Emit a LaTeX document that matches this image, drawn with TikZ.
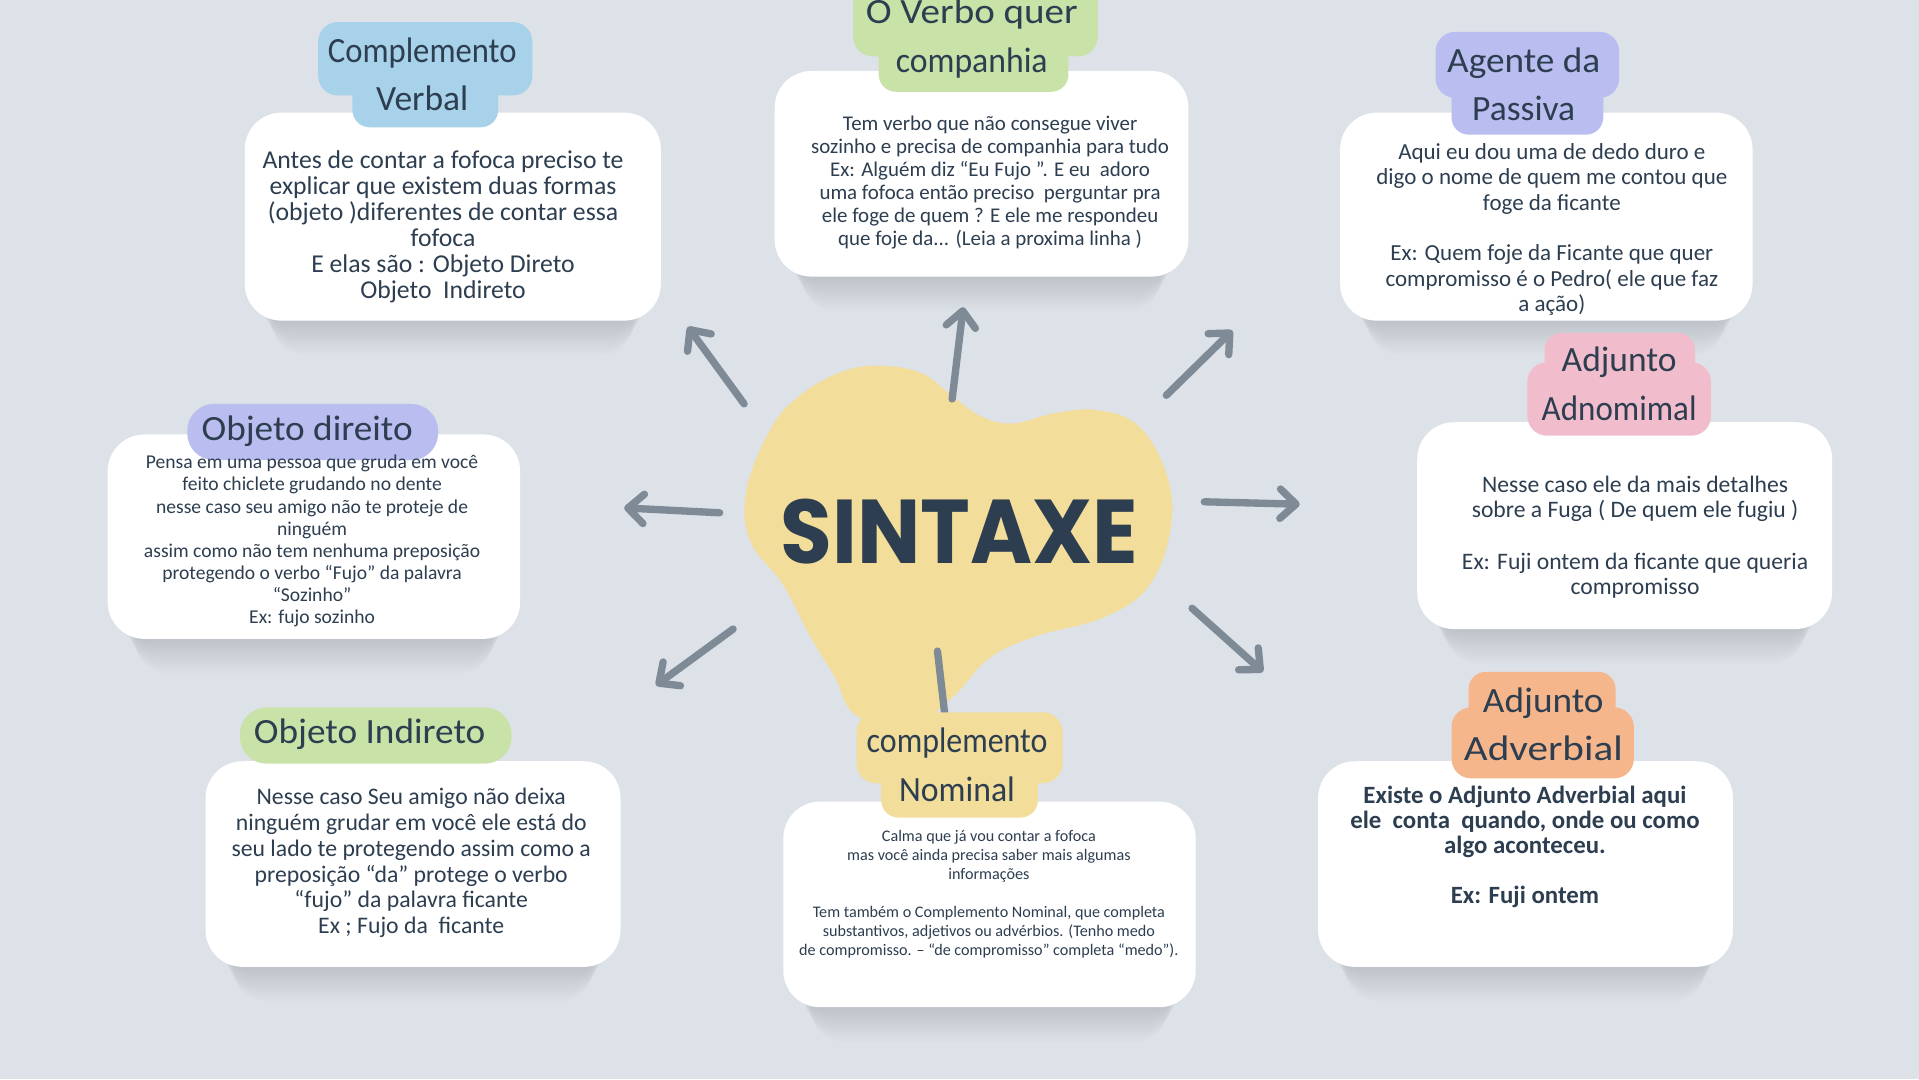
\documentclass[tikz,border=0pt]{standalone}
\usepackage{fontspec}
\setmainfont{Carlito}
\newfontfamily\bigfont{Poppins}
\usetikzlibrary{arrows.meta}
\definecolor{bg}{HTML}{DDE1E8}
\definecolor{txt}{HTML}{2D3E50}
\definecolor{arrowc}{HTML}{7E8B97}
\definecolor{tblue}{HTML}{A8D1EA}
\definecolor{tgreen}{HTML}{C8E2A8}
\definecolor{tlav}{HTML}{B9BDEF}
\definecolor{tpink}{HTML}{F1BDCC}
\definecolor{torange}{HTML}{F5B68B}
\definecolor{tyellow}{HTML}{F3DD9A}
\newcommand\mycard[4]{%
  \foreach \i in {1,...,10} {\fill[black,opacity=0.013,rounded corners=26pt] (#1+8+1.5*\i,#2+10) rectangle (#3-8-1.5*\i,#4+2.8*\i);}
  \fill[white,rounded corners=30pt] (#1,#2) rectangle (#3,#4);
}
\newcommand\sx[2]{\scalebox{#1}[1]{#2}}
\tikzset{
  body/.style={text=txt, align=center, inner sep=0pt},
  boldbody/.style={text=txt, align=center, inner sep=0pt, font=\bfseries\fontsize{20.3}{20.5}\selectfont},
  title/.style={text=txt, align=center, inner sep=0pt, font=\fontsize{29}{39.5}\selectfont},
  arr/.style={draw=arrowc, line width=6pt, line cap=round,
    -{Straight Barb[length=13pt,width=24pt,line cap=round,line join=round]}},
  plainline/.style={draw=arrowc, line width=6pt, line cap=round},
}
\begin{document}
\begin{tikzpicture}[x=1pt,y=-1pt]
\useasboundingbox (0,0) rectangle (1568,882);
\fill[bg] (0,0) rectangle (1568,882);

% central blob
\fill[tyellow] plot[smooth cycle, tension=0.65] coordinates {
 (722,299) (690,303) (655,322) (630,350) (610,400) (613,442) (640,478)
 (662,520) (682,553) (700,585) (745,592) (778,570) (808,538) (846,520)
 (903,504) (940,477) (957,428) (952,384) (929,347) (895,335) (860,338)
 (828,346) (801,340) (775,321) (753,305)};
\node[text=txt, inner sep=0pt, font=\bigfont\bfseries\fontsize{74}{80}\selectfont, xscale=0.93] (center) at (784,434) {SINTAXE};

% arrows
\coordinate (a1s) at (608,330); \coordinate (a1e) at (562,267);
\coordinate (a2s) at (778,326); \coordinate (a2e) at (787,251);
\coordinate (a3s) at (953,323); \coordinate (a3e) at (1007,270);
\coordinate (a4s) at (588,419); \coordinate (a4e) at (510,415);
\coordinate (a5s) at (984,410); \coordinate (a5e) at (1062,412);
\coordinate (a6s) at (599,514); \coordinate (a6e) at (536,560);
\coordinate (a7s) at (974,497); \coordinate (a7e) at (1032,549);
\coordinate (a8s) at (766,532); \coordinate (a8e) at (772,584);
\draw[arr] (a1s) -- (a1e);
\draw[arr] (a2s) -- (a2e);
\draw[arr] (a3s) -- (a3e);
\draw[arr] (a4s) -- (a4e);
\draw[arr] (a5s) -- (a5e);
\draw[arr] (a6s) -- (a6e);
\draw[arr] (a7s) -- (a7e);
\draw[plainline] (a8s) -- (a8e);

% cards
\mycard{200}{92}{540}{262}
\mycard{633}{58}{971}{226}
\mycard{1095}{92}{1432}{262}
\mycard{88}{355}{425}{522}
\mycard{168}{622}{507}{790}
\mycard{640}{655}{977}{823}
\mycard{1158}{345}{1497}{514}
\mycard{1077}{622}{1416}{790}

% tags
\fill[tblue,rounded corners=16pt] (260,18) rectangle (435,78);
\fill[tblue,rounded corners=14pt] (288,56) rectangle (407,104);
\fill[tgreen,rounded corners=16pt] (697,-20) rectangle (897,46);
\fill[tgreen,rounded corners=14pt] (718,30) rectangle (873,75);
\fill[tlav,rounded corners=16pt] (1173,26) rectangle (1323,80);
\fill[tlav,rounded corners=14pt] (1186,62) rectangle (1310,110);
\fill[tlav,rounded corners=22pt] (153,330) rectangle (358,376);
\fill[tgreen,rounded corners=22pt] (196,578) rectangle (418,624);
\fill[tyellow,rounded corners=16pt] (700,582) rectangle (868,640);
\fill[tyellow,rounded corners=14pt] (720,620) rectangle (848,668);
\fill[tpink,rounded corners=14pt] (1262,272) rectangle (1385,316);
\fill[tpink,rounded corners=16pt] (1248,296) rectangle (1398,356);
\fill[torange,rounded corners=14pt] (1200,549) rectangle (1320,596);
\fill[torange,rounded corners=16pt] (1186,578) rectangle (1335,636);

% titles
\node[title] (t1) at (345,60.5) {\sx{0.92}{Complemento}\\Verbal};
\node[title] (t2) at (794,31.5) {\sx{1.1}{O Verbo quer}\\\sx{0.95}{companhia}};
\node[title] (t3) at (1245,69) {\sx{1.05}{Agente da}\\Passiva};
\node[title] (t4) at (251,352) {\sx{1.05}{Objeto direito}};
\node[title] (t5) at (302,600) {\sx{1.05}{Objeto Indireto}};
\node[title] (t6) at (782,625) {\sx{0.9}{complemento}\\\sx{0.95}{Nominal}};
\node[title] (t7) at (1323,313.5) {Adjunto\\\sx{0.93}{Adnomimal}};
\node[title] (t8) at (1261,592) {\sx{1.05}{Adjunto}\\\sx{1.16}{Adverbial}};

% bodies
\node[body, font=\fontsize{21}{21.3}\selectfont] (b1) at (362,185.5) {Antes de contar a fofoca preciso te\\explicar que existem duas formas\\(objeto )diferentes de contar essa\\fofoca\\E elas são : Objeto Direto\\Objeto \ Indireto};
\node[body, font=\fontsize{17.1}{18.8}\selectfont] (b2) at (809,149) {Tem verbo que não consegue viver\\sozinho e precisa de companhia para tudo\\Ex: Alguém diz “Eu Fujo ”. E eu \ adoro\\uma fofoca então preciso \ perguntar pra\\ele foge de quem ? E ele me respondeu\\que foje da... (Leia a proxima linha )};
\node[body, font=\fontsize{18.8}{20.8}\selectfont] (b3) at (1268,187.5) {Aqui eu dou uma de dedo duro e\\digo o nome de quem me contou que\\foge da ficante\\[\baselineskip]Ex: Quem foje da Ficante que quer\\compromisso é o Pedro( ele que faz\\a ação)};
\node[body, font=\fontsize{16}{18}\selectfont] (b4) at (255,442) {Pensa em uma pessoa que gruda em você\\feito chiclete grudando no dente\\nesse caso seu amigo não te proteje de\\ninguém\\assim como não tem nenhuma preposição\\protegendo o verbo “Fujo” da palavra\\“Sozinho”\\Ex: fujo sozinho};
\node[body, font=\fontsize{19.4}{21.2}\selectfont] (b5) at (336,705) {Nesse caso Seu amigo não deixa\\ninguém grudar em você ele está do\\seu lado te protegendo assim como a\\preposição “da” protege o verbo\\“fujo” da palavra ficante\\Ex ; Fujo da \ ficante};
\node[body, font=\fontsize{13.2}{15.5}\selectfont] (b6) at (808,730.5) {Calma que já vou contar a fofoca\\mas você ainda precisa saber mais algumas\\informações\\[\baselineskip]Tem também o Complemento Nominal, que completa\\substantivos, adjetivos ou advérbios. (Tenho medo\\de compromisso. – “de compromisso” completa “medo”).};
\node[body, font=\fontsize{19.3}{21}\selectfont] (b7) at (1336,439) {Nesse caso ele da mais detalhes\\sobre a Fuga ( De quem ele fugiu )\\[\baselineskip]Ex: Fuji ontem da ficante que queria\\compromisso};
\node[boldbody] (b8) at (1246,692) {Existe o Adjunto Adverbial aqui\\ele \ conta \ quando, onde ou como\\algo aconteceu.\\[\baselineskip]Ex: Fuji ontem};
\end{tikzpicture}
\end{document}
